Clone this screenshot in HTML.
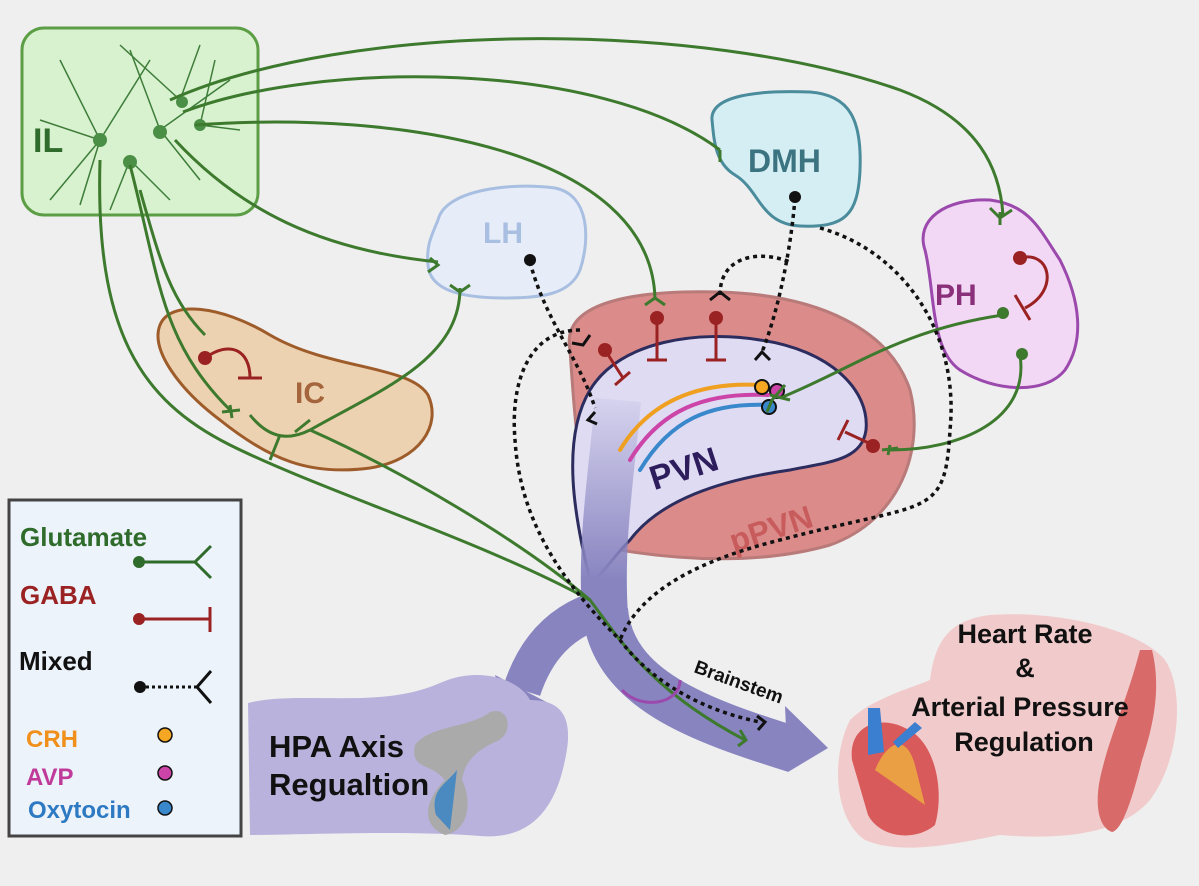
<!DOCTYPE html>
<html><head><meta charset="utf-8"><style>
html,body{margin:0;padding:0;background:#efefef;}
svg{display:block;font-family:"Liberation Sans",sans-serif;font-weight:bold;}
</style></head><body>
<svg width="1199" height="886" viewBox="0 0 1199 886" xmlns="http://www.w3.org/2000/svg">
<defs>
<linearGradient id="ag" x1="0" y1="380" x2="0" y2="580" gradientUnits="userSpaceOnUse">
<stop offset="0" stop-color="#8884c0" stop-opacity="0"/>
<stop offset="1" stop-color="#8884c0" stop-opacity="1"/>
</linearGradient>
</defs>
<rect width="1199" height="886" fill="#efefef"/>
<!-- IL -->
<rect x="22" y="28" width="236" height="187" rx="22" fill="#d8f1cf" stroke="#5c9e46" stroke-width="3"/>
<text x="33" y="152" font-size="34" fill="#2f6b2a">IL</text>
<g stroke="#3e7d3a" stroke-width="1.5" fill="none">
<path d="M100 140 L60 60 M100 140 L150 60 M100 140 L50 200 M100 140 L80 205 M130 160 L110 210 M130 160 L170 200 M160 130 L130 50 M160 130 L230 80 M200 125 L240 130 M200 125 L215 60 M180 100 L120 45 M180 100 L200 45 M160 130 L200 180 M100 140 L40 120"/>
</g>
<g fill="#4b8f46"><circle cx="100" cy="140" r="7"/><circle cx="130" cy="162" r="7"/><circle cx="160" cy="132" r="7"/><circle cx="182" cy="102" r="6"/><circle cx="200" cy="125" r="6"/></g>
<!-- DMH -->
<path d="M712 120 C710 95 760 90 810 92 C850 95 862 120 860 170 C858 215 845 228 800 226 C760 224 760 190 735 175 C715 163 714 140 712 120Z" fill="#d5eef4" stroke="#4a8c9c" stroke-width="3"/>
<text x="748" y="172" font-size="32" fill="#3b7480">DMH</text>
<!-- LH -->
<path d="M438 220 C445 190 510 182 555 188 C590 195 590 240 580 270 C570 295 540 298 505 298 C460 298 430 290 428 265 C426 245 432 235 438 220Z" fill="#e6edf8" stroke="#a9bfe2" stroke-width="3"/>
<text x="483" y="243" font-size="30" fill="#a9bfe2">LH</text>
<!-- PH -->
<path d="M925 250 C915 220 945 198 990 200 C1030 205 1040 230 1060 260 C1080 300 1085 340 1065 370 C1045 395 995 392 960 370 C930 350 935 290 925 250Z" fill="#f2d8f4" stroke="#9b49ad" stroke-width="3"/>
<text x="935" y="305" font-size="30" fill="#8a2f7a">PH</text>
<!-- IC -->
<path d="M160 325 C170 300 220 305 270 335 C330 370 410 365 428 395 C442 425 420 460 370 468 C310 476 270 460 220 420 C180 390 150 350 160 325Z" fill="#edd2b2" stroke="#9e5c2a" stroke-width="3"/>
<text x="295" y="403" font-size="30" fill="#a4643c">IC</text>
<!-- pPVN -->
<path d="M570 350 C560 300 640 290 720 292 C820 295 890 330 910 390 C925 450 900 520 830 545 C760 565 680 560 620 550 C580 530 575 420 570 350Z" fill="#da8b8a" stroke="#b97a7a" stroke-width="3"/>
<!-- PVN -->
<path d="M590 580 C575 520 560 440 590 390 C620 340 700 330 760 340 C830 350 870 390 866 430 C862 460 830 462 790 470 C720 480 660 500 630 540 C610 560 600 580 590 580Z" fill="#dedbf3" stroke="#2c2c5e" stroke-width="3"/>
<text x="648" y="478" font-size="34" fill="#2e1d5c" transform="rotate(-18 690 465)">PVN</text>
<text x="728" y="540" font-size="32" fill="#c85c5c" transform="rotate(-18 770 528)">pPVN</text>
<!-- big arrows -->
<path d="M618 400 C612 470 600 540 605 615" fill="none" stroke="url(#ag)" stroke-width="46"/>
<path d="M605 610 C612 690 700 720 795 750" fill="none" stroke="#8884c0" stroke-width="46"/>
<polygon points="785,706 828,748 788,772" fill="#8884c0"/>
<path d="M605 608 C560 620 535 650 522 690" fill="none" stroke="#8884c0" stroke-width="38"/>
<polygon points="495,675 552,705 507,718" fill="#8884c0"/>
<g fill="none" stroke-width="4" stroke-linecap="round">
<path d="M760 385 C700 382 650 400 620 450" stroke="#f0a020"/>
<path d="M768 395 C705 392 660 410 630 460" stroke="#cc44a8"/>
<path d="M770 405 C710 402 670 420 640 470" stroke="#3a88cc"/>
</g>
<circle cx="762" cy="387" r="7" fill="#f5a623" stroke="#111" stroke-width="2"/>
<circle cx="777" cy="391" r="7" fill="#cc44a8" stroke="#111" stroke-width="2"/>
<circle cx="769" cy="407" r="7" fill="#3a88cc" stroke="#111" stroke-width="2"/>
<!-- HPA region -->
<path d="M248 703 C300 690 380 710 440 683 C480 665 520 680 530 700 C560 700 575 715 565 760 C555 810 530 840 480 836 C400 830 300 835 250 835Z" fill="#b9b2dc"/>
<path d="M415 745 C430 725 470 728 490 712 C510 705 515 735 495 742 C478 750 465 760 462 780 C472 800 470 830 445 835 C420 825 425 800 445 780 C430 762 410 770 415 745Z" fill="#aaa"/>
<path d="M436 815 C430 790 445 785 457 770 L450 830Z" fill="#4b8ac0"/>
<text x="269" y="757" font-size="31" fill="#111">HPA Axis</text>
<text x="269" y="795" font-size="31" fill="#111">Regualtion</text>
<!-- Heart region -->
<path d="M850 720 C870 700 905 690 930 680 C935 640 950 620 990 615 C1060 610 1140 630 1165 660 C1185 690 1180 760 1150 800 C1120 835 1060 840 1000 835 C950 845 900 855 865 840 C835 820 830 760 850 720Z" fill="#f1cbcb"/>
<path d="M852 760 C848 725 880 715 905 728 C935 740 945 790 935 825 C915 842 880 838 868 815Z" fill="#d85a5a"/>
<path d="M875 770 C885 745 905 730 915 765 L925 805 Z" fill="#f0b040" opacity="0.8"/>
<path d="M868 755 L868 708 L880 708 L884 752Z M893 742 L915 722 L922 728 L898 748Z" fill="#3a7fd0"/>
<path d="M1152 650 C1162 690 1152 730 1142 760 C1132 800 1122 830 1112 832 C1097 827 1094 800 1102 770 C1112 730 1127 700 1140 650Z" fill="#d86a6a"/>
<text x="1025" y="643" font-size="27" fill="#111" text-anchor="middle">Heart Rate</text>
<text x="1025" y="677" font-size="27" fill="#111" text-anchor="middle">&amp;</text>
<text x="1020" y="716" font-size="27" fill="#111" text-anchor="middle">Arterial Pressure</text>
<text x="1024" y="751" font-size="27" fill="#111" text-anchor="middle">Regulation</text>
<!-- Legend -->
<rect x="9" y="500" width="232" height="336" fill="#edf3fb" stroke="#444" stroke-width="3"/>
<text x="20" y="546" font-size="26" fill="#2f6b2a">Glutamate</text>
<text x="20" y="604" font-size="26" fill="#9b2222">GABA</text>
<text x="19" y="670" font-size="26" fill="#111">Mixed</text>
<text x="26" y="747" font-size="24" fill="#f0901a">CRH</text>
<text x="26" y="785" font-size="24" fill="#c03a9a">AVP</text>
<text x="28" y="818" font-size="24" fill="#2e7ac2">Oxytocin</text>
<circle cx="139" cy="562" r="6" fill="#2f6b2a"/><path d="M139 562 H195 M211 546 L195 562 L211 578" stroke="#2f6b2a" stroke-width="3" fill="none"/>
<circle cx="139" cy="619" r="6" fill="#9b2222"/><path d="M139 619 H210 M210 607 V632" stroke="#9b2222" stroke-width="3" fill="none"/>
<circle cx="140" cy="687" r="6" fill="#111"/><path d="M146 687 H197" stroke="#111" stroke-width="3" stroke-dasharray="3 3" fill="none"/><path d="M211 671 L197 687 L211 703" stroke="#111" stroke-width="3" fill="none"/>
<circle cx="165" cy="735" r="7" fill="#f5a623" stroke="#111" stroke-width="1.5"/>
<circle cx="165" cy="773" r="7" fill="#cc44a8" stroke="#111" stroke-width="1.5"/>
<circle cx="165" cy="808" r="7" fill="#3a88cc" stroke="#111" stroke-width="1.5"/>
<!-- Green connections -->
<g fill="none" stroke="#3d7a2e" stroke-width="3">
<path d="M170 100 C350 20 700 20 900 90 C980 120 1000 170 1003 215"/>
<path d="M183 112 C320 60 600 60 720 150"/>
<path d="M195 125 C400 110 650 150 655 298"/>
<path d="M175 140 C240 210 320 250 438 262"/>
<path d="M130 165 C160 280 160 340 230 410"/>
<path d="M140 190 C160 260 170 300 205 335"/>
<path d="M100 160 C95 330 140 400 230 445 C320 490 480 540 590 600 C620 640 650 690 745 740"/>
<path d="M310 430 C400 470 520 540 590 600"/>
<path d="M460 288 C460 360 380 390 310 430"/>
<path d="M310 430 C290 440 270 440 250 415 M280 435 L270 460 M295 432 L310 420"/>
<path d="M1003 315 C900 330 850 370 780 398"/>
<path d="M1020 355 C1030 420 960 450 890 450"/>
</g>
<g fill="none" stroke="#3d7a2e" stroke-width="3">
<path d="M1000 212 L1000 225 M990 208 L1000 218 L1012 210"/>
<path d="M720 150 L720 162"/>
<path d="M645 305 L655 298 L665 305"/>
<path d="M430 258 L438 265 L428 272"/>
<path d="M450 285 L460 292 L470 285"/>
<path d="M785 385 L772 400 L767 412 M770 395 L790 400"/>
<path d="M890 445 L888 455 M882 450 L898 448"/>
<path d="M230 405 L232 418 M222 412 L240 410"/>
<path d="M740 730 L746 740 L738 746"/>
</g>
<g fill="#3d7a2e"><circle cx="1003" cy="313" r="6"/><circle cx="1022" cy="354" r="6"/></g>
<!-- GABA -->
<g stroke="#9b2222" stroke-width="3" fill="none">
<path d="M1020 258 C1050 250 1060 290 1025 308 M1015 295 L1030 320"/>
<path d="M205 358 C230 340 250 350 250 378 M238 378 H262"/>
<path d="M657 320 V360 M647 360 H667"/>
<path d="M716 320 V360 M706 360 H726"/>
<path d="M605 350 L623 378 M615 385 L630 372"/>
<path d="M873 445 L845 432 M838 440 L848 420"/>
</g>
<g fill="#9b2222"><circle cx="1020" cy="258" r="7"/><circle cx="205" cy="358" r="7"/><circle cx="657" cy="318" r="7"/><circle cx="716" cy="318" r="7"/><circle cx="605" cy="350" r="7"/><circle cx="873" cy="446" r="7"/></g>
<!-- Dotted -->
<g fill="none" stroke="#111" stroke-width="3.5" stroke-dasharray="4 4">
<path d="M530 262 C545 320 580 360 595 408"/>
<path d="M795 198 C790 260 775 320 762 352"/>
<path d="M720 295 C720 255 760 250 790 262"/>
<path d="M820 228 C900 250 960 330 950 430 C945 520 930 500 780 540 C700 560 640 590 620 640"/>
<path d="M580 330 C530 330 510 380 515 440 C520 520 560 580 620 640 C650 680 700 710 760 722"/>
</g>
<g fill="none" stroke="#111" stroke-width="3">
<path d="M590 335 L583 345 L572 343"/>
<path d="M595 412 L588 420 L597 424"/>
<path d="M710 300 L720 292 L730 300"/>
<path d="M755 360 L762 352 L770 360"/>
<path d="M757 716 L765 722 L758 730"/>
</g>
<g fill="#111"><circle cx="530" cy="260" r="6"/><circle cx="795" cy="197" r="6"/></g>
<path d="M622 690 C640 710 680 705 680 680" fill="none" stroke="#9b49ad" stroke-width="3"/>
<text x="693" y="672" font-size="19" fill="#111" transform="rotate(20 693 672)">Brainstem</text>
</svg>
</body></html>
